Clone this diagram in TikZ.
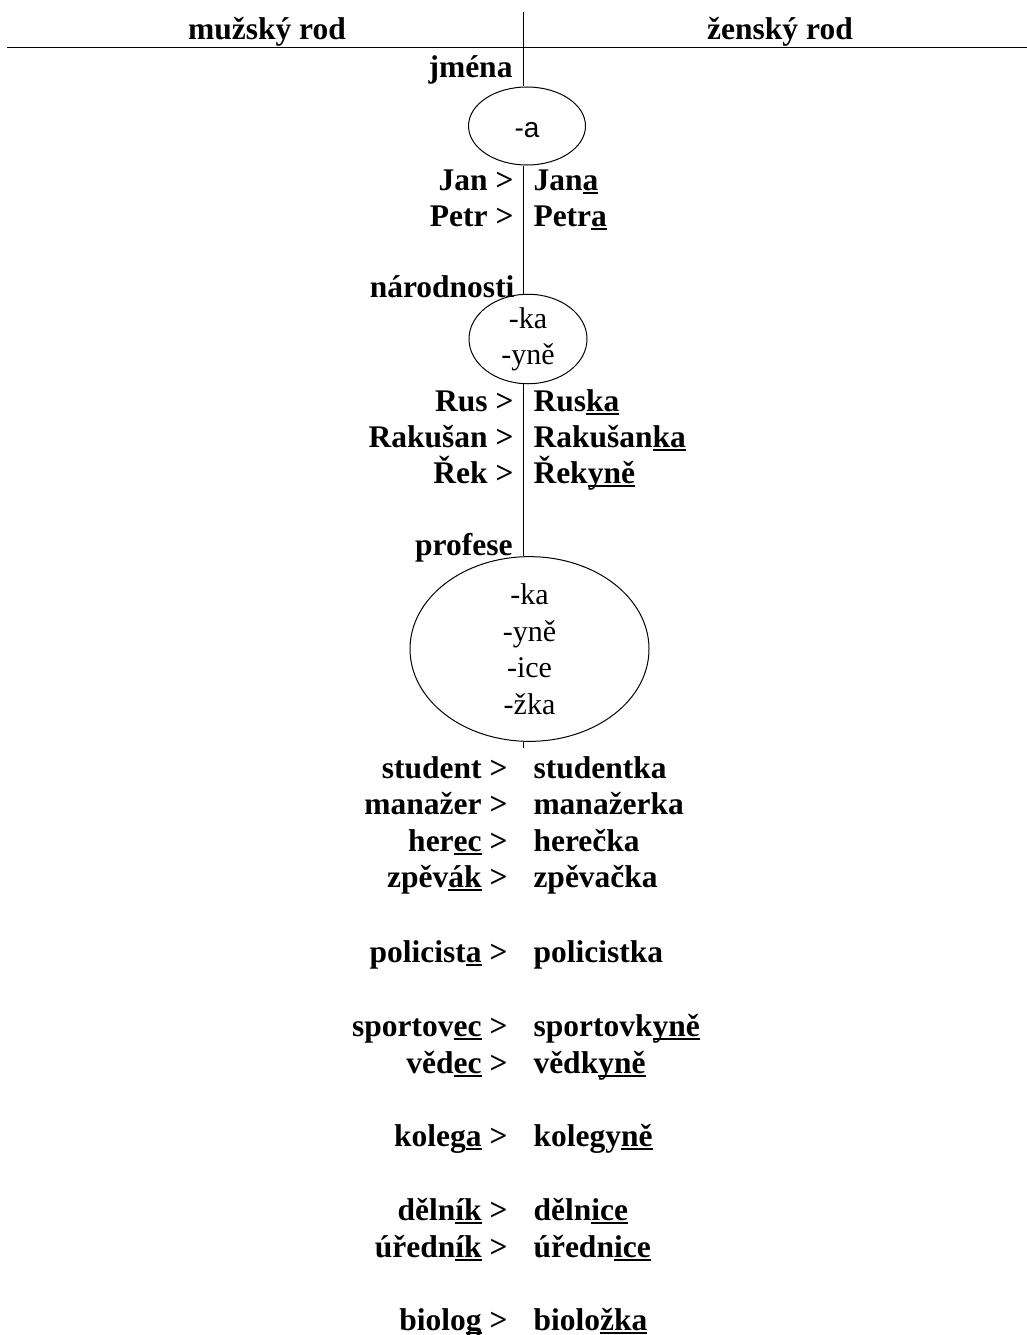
\documentclass[tikz,border=0pt]{standalone}
\usepackage{fontspec}
\setmainfont{Liberation Serif}
\newfontfamily\sufsans{Liberation Sans}
\usetikzlibrary{shapes.geometric}
\newcommand{\bigtext}{\fontsize{30}{36}\selectfont}
\newcommand{\boldtext}{\fontsize{31.5}{36}\selectfont\bfseries}
\newcommand{\ul}[1]{\setbox0\hbox{#1}\rlap{\vrule width\wd0 height -2pt depth 4.3pt}\box0}
\tikzset{
    masc/.style={anchor=base east, inner sep=0pt, font=\boldtext},
    fem/.style={anchor=base west, inner sep=0pt, font=\boldtext},
    heading/.style={anchor=base, inner sep=0pt, font=\boldtext},
    suffix/.style={draw, ellipse, inner sep=0pt, align=center},
}
\begin{document}
\begin{tikzpicture}[x=1pt, y=-1pt, line width=1pt]
            \useasboundingbox (0,0) rectangle (1027,1335);

            \node[heading] (mhead) at (267,40) {mužský rod};
            \node[heading] (fhead) at (780,40) {ženský rod};
            \coordinate (hleft) at (7,48);
            \coordinate (hright) at (1027,48);
            \coordinate (top) at (523,12);
            \coordinate (bot) at (523,748);
            \draw (hleft) -- (hright);

            % jmena
            \node[masc] (jmena) at (513,78) {jména};
            \node[suffix, minimum width=117, minimum height=78,
                font=\sufsans\fontsize{28}{34}\selectfont] (ea) at (527,126) {\raisebox{-11pt}[0pt][0pt]{-a}};
            \foreach \y/\m/\f[count=\i] in {190/Jan/Jan\ul{a}, 226/Petr/Petr\ul{a}} {
                \node[masc] (jm\i) at (514,\y) {\m\ >};
                \node[fem] (jf\i) at (533,\y) {\f};
            }

            % narodnosti
            \node[masc] (narod) at (515,297) {národnosti};
            \node[suffix, minimum width=118, minimum height=74,
                font=\bigtext] (en) at (528,339) {-ka\\-yně};
            \foreach \y/\m/\f[count=\i] in {411/Rus/Rus\ul{ka}, 447/Rakušan/Rakušan\ul{ka},
                483/Řek/Řek\ul{yně}} {
                \node[masc] (nm\i) at (514,\y) {\m\ >};
                \node[fem] (nf\i) at (533,\y) {\f};
            }

            % profese
            \node[masc] (prof) at (513,555) {profese};
            \node[suffix, minimum width=239, minimum height=172,
                font=\fontsize{30}{36.5}\selectfont] (ep) at (529.5,649) {-ka\\-yně\\-ice\\-žka};
            \foreach \y/\m/\f[count=\i] in {778/student/studentka, 814/manažer/manažerka,
                851/her\ul{ec}/herečka, 887/zpěv\ul{ák}/zpěvačka,
                962/policist\ul{a}/policistka,
                1036/sportov\ul{ec}/sportovk\ul{yně}, 1073/věd\ul{ec}/vědk\ul{yně},
                1146/koleg\ul{a}/kolegy\ul{ně},
                1220/děln\ul{ík}/děln\ul{ice}, 1257/úředn\ul{ík}/úředn\ul{ice},
                1330/biolo\ul{g}/biolo\ul{žka}} {
                \node[masc] (pm\i) at (508,\y) {\m\ >};
                \node[fem] (pf\i) at (533,\y) {\f};
            }

            \draw (top) -- (top |- ea.north);
            \draw (top |- ea.south) -- (top |- en.north);
            \draw (top |- en.south) -- (top |- ep.north);
            \draw (top |- ep.south) -- (bot);
        \end{tikzpicture}
\end{document}
